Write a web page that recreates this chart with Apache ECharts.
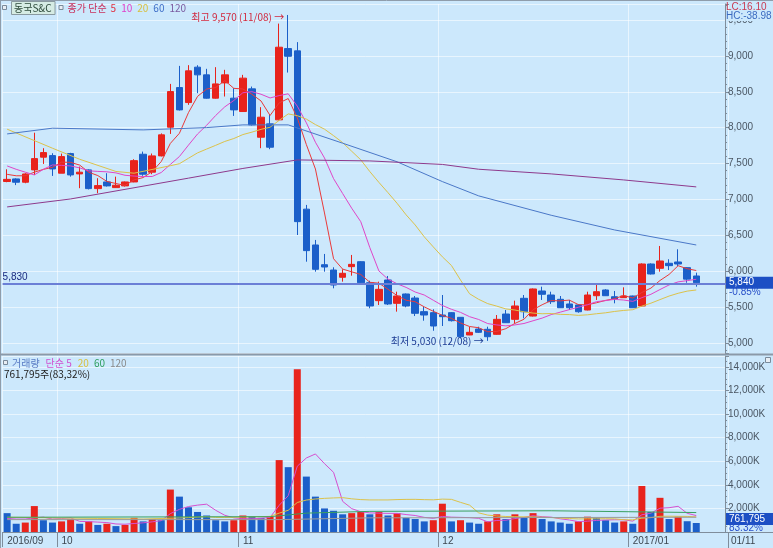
<!DOCTYPE html>
<html>
<head>
<meta charset="utf-8">
<script src="https://cdn.jsdelivr.net/npm/echarts@6.0.0/dist/echarts.min.js"></script>
<style>
html,body{margin:0;padding:0;background:#cce8fc;overflow:hidden}
#c{width:773px;height:548px}
</style>
</head>
<body>
<div id="c"></div>
<script>
// ---------------- data ----------------
const dates = [
 '2016-09-23','2016-09-26','2016-09-27','2016-09-28','2016-09-29','2016-09-30',
 '2016-10-04','2016-10-05','2016-10-06','2016-10-07','2016-10-10','2016-10-11','2016-10-12','2016-10-13','2016-10-14',
 '2016-10-17','2016-10-18','2016-10-19','2016-10-20','2016-10-21','2016-10-24','2016-10-25','2016-10-26','2016-10-27','2016-10-28','2016-10-31',
 '2016-11-01','2016-11-02','2016-11-03','2016-11-04','2016-11-07','2016-11-08','2016-11-09','2016-11-10','2016-11-11',
 '2016-11-14','2016-11-15','2016-11-16','2016-11-17','2016-11-18','2016-11-21','2016-11-22','2016-11-23','2016-11-24','2016-11-25',
 '2016-11-28','2016-11-29','2016-11-30',
 '2016-12-01','2016-12-02','2016-12-05','2016-12-06','2016-12-07','2016-12-08','2016-12-09','2016-12-12','2016-12-13','2016-12-14',
 '2016-12-15','2016-12-16','2016-12-19','2016-12-20','2016-12-21','2016-12-22','2016-12-23','2016-12-26','2016-12-27','2016-12-28','2016-12-29',
 '2017-01-02','2017-01-03','2017-01-04','2017-01-05','2017-01-06','2017-01-09','2017-01-10','2017-01-11'
];
const open = [7250,7286,7240,7412,7589,7611,7366,7639,7356,7412,
 7151,7244,7165,7189,7244,7630,7380,7607,8007,8559,
 8350,8843,8736,8411,8624,8411,8225,8541,7867,8053,
 8109,9102,9070,6865,6366,6091,6017,5916,6064,6133,
 5840,5590,5878,5553,5683,5627,5437,5423,5390,5423,
 5358,5112,5195,5191,5121,5404,5330,5623,5376,5725,
 5669,5609,5544,5530,5460,5659,5739,5645,5632,5655,
 5516,6101,6041,6111,6129,6050,5934];
const high = [7420,7295,7365,7930,7714,7644,7639,7650,7458,7420,
 7296,7366,7318,7250,7561,7667,7640,7920,8610,8861,
 8871,8870,8820,8843,8806,8550,8736,8573,8286,8178,
 9450,9570,9192,6924,6436,6241,6055,6027,6227,6140,
 5868,5855,5934,5715,5690,5655,5506,5470,5669,5430,
 5360,5227,5227,5227,5390,5460,5590,5669,5760,5785,
 5715,5655,5600,5540,5715,5818,5750,5725,5776,5660,
 6110,6110,6352,6167,6306,6055,5980];
const low = [7240,7200,7226,7342,7495,7328,7366,7318,7157,7140,
 7087,7180,7160,7180,7240,7330,7352,7600,7913,8240,
 8318,8481,8405,8405,8434,8164,8220,8030,7714,7700,
 8100,8768,6505,6133,5994,5994,5762,5855,5938,5830,
 5484,5530,5530,5437,5498,5376,5311,5171,5237,5300,
 5065,5110,5140,5030,5115,5280,5274,5344,5370,5600,
 5544,5490,5460,5422,5455,5600,5655,5553,5630,5490,
 5510,5955,5994,6017,6073,5840,5785];
const close = [7280,7240,7355,7569,7653,7425,7597,7342,7380,7151,
 7193,7189,7198,7244,7541,7352,7607,7900,8503,8248,
 8792,8736,8411,8610,8736,8248,8690,8039,8146,7728,
 9121,8995,6691,6287,6027,6059,5808,5971,6096,5840,
 5516,5748,5544,5655,5516,5414,5390,5237,5367,5311,
 5088,5149,5149,5088,5330,5283,5516,5436,5753,5679,
 5576,5492,5492,5436,5669,5715,5659,5613,5655,5492,
 6101,5962,6143,6078,6101,5890,5840];
const volume = [1600000,700000,800000,2200000,1000000,800000,900000,1100000,700000,900000,
 600000,700000,500000,600000,1200000,900000,1100000,1000000,3600000,3000000,
 2100000,1700000,1400000,1000000,900000,1000000,1400000,1300000,1200000,1300000,
 6100000,5500000,13800000,4700000,3000000,2000000,1800000,1500000,1600000,1700000,
 1500000,1700000,1400000,1600000,1200000,1100000,900000,1000000,2400000,900000,
 1000000,800000,700000,900000,1500000,1100000,1500000,1200000,1600000,1100000,
 900000,800000,700000,900000,1300000,1200000,1000000,800000,900000,700000,
 3900000,1700000,2900000,1100000,1300000,914300,761795];

// moving-average values before enough history exists
const ma5Lead  = [7350, 7330, 7330, 7380];
const ma10Lead = [7467, 7420, 7380, 7342, 7420, 7481, 7475, 7467, 7440];
const ma20Lead = [7979, null, null, null, null, 7714, null, null, 7560, null, null, null, 7390, null, 7366, null, null, null, 7470];
// long averages: [candle index, value]
const ma60Read  = [[0,7913],[5,7993],[15,7969],[22,8001],[26,8039],[31,8039],[37,7784],[43,7525],[48,7249],[52,7050],[60,6780],[67,6575],[76,6366]];
const ma120Read = [[0,6896],[7,7007],[20,7297],[26,7432],[32,7551],[40,7537],[48,7488],[52,7421],[60,7356],[68,7272],[76,7175]];
const volMa5Lead  = [1150000, 1100000, 1100000, 1200000];
const volMa20Lead = [1250000, null, null, null, null, 1200000, null, null, null, null, 1150000, null, null, null, null, 1100000, null, null, null];
const volMa60Read  = [[0,1250000],[29,1300000],[33,1600000],[40,1750000],[60,1800000],[76,1650000]];
const volMa120Read = [[0,1050000],[30,1050000],[40,1200000],[76,1250000]];
const refLine = 5830;

// ---------------- helpers ----------------
const RED = '#e8231c', BLUE = '#1b5fc9', BG = '#cce8fc', AX = '#7f8d9b';
const NUMF = "'Liberation Sans',Arial,sans-serif";
const KRF = "'Noto Sans CJK KR','Noto Sans',sans-serif";
const N = dates.length;
const cats = dates.concat(['', '', '']);
const fmt = v => Math.round(v).toLocaleString('en-US');
function sma(arr, n, lead) {
  return arr.map((_, i) => {
    if (i < n - 1) return lead[i] == null ? null : lead[i];
    let s = 0; for (let k = i - n + 1; k <= i; k++) s += arr[k];
    return Math.round(s / n);
  });
}
function sparse(pairs) { const out = new Array(N).fill(null); pairs.forEach(p => { out[p[0]] = p[1]; }); return out; }
const isMonthStart = i => i < N && (i === 0 || dates[i].slice(5, 7) !== dates[i - 1].slice(5, 7));
const monthLabel = i => (i === 0 || dates[i].slice(5, 7) === '01') ? dates[i].slice(0, 4) + '/' + dates[i].slice(5, 7) : String(+dates[i].slice(5, 7));
const mmdd = i => dates[i].slice(5, 7) + '/' + dates[i].slice(8, 10);

const idxHi = high.indexOf(Math.max(...high));
const idxLo = low.indexOf(Math.min(...low));
const last = close[N - 1], prev = close[N - 2];
const chg = (last - prev) / prev * 100;
const volRatio = volume[N - 1] / volume[N - 2] * 100;
const LC = (last - low[idxLo]) / low[idxLo] * 100;
const HC = (last - high[idxHi]) / high[idxHi] * 100;

const candleData = dates.map((d, i) => [open[i], close[i], low[i], high[i]]);
const volData = volume.map((v, i) => ({ value: v, itemStyle: { color: (i > 0 && v > volume[i - 1]) ? RED : BLUE } }));

const line = (data, color, gi) => ({
  type: 'line', data, xAxisIndex: gi, yAxisIndex: gi, symbol: 'none', connectNulls: true,
  lineStyle: { width: 1, color }, itemStyle: { color }, silent: true, z: 4
});

const xBase = gi => ({
  type: 'category', gridIndex: gi, data: cats, boundaryGap: true,
  axisLine: { show: gi === 1, lineStyle: { color: AX } },
  axisTick: { show: gi === 1, interval: (i) => isMonthStart(i), length: 15, lineStyle: { color: AX } },
  axisLabel: { show: gi === 1, interval: (i) => isMonthStart(i), formatter: (v, i) => monthLabel(i),
    align: 'left', color: '#3c4650', fontSize: 10, fontFamily: NUMF, margin: 4 },
  splitLine: { show: true, interval: (i) => isMonthStart(i), lineStyle: { color: 'rgba(255,255,255,0.55)' } }
});

const chart = echarts.init(document.getElementById('c'));
chart.setOption({
  animation: false,
  backgroundColor: BG,
  grid: [
    { left: 2.6, right: 45, top: 4, height: 349 },
    { left: 2.6, right: 45, top: 356, height: 176 }
  ],
  xAxis: [xBase(0), xBase(1)],
  yAxis: [
    { type: 'value', gridIndex: 0, position: 'right', offset: -3, min: 4861, max: 9723, splitNumber: 10,
      axisLine: { show: true, lineStyle: { color: AX } },
      axisTick: { show: true, length: 4, lineStyle: { color: AX } },
      minorTick: { show: true, splitNumber: 5, length: 2, lineStyle: { color: AX } },
      axisLabel: { showMinLabel: false, showMaxLabel: false, color: '#4a5663', fontSize: 10, fontFamily: NUMF, margin: 3, formatter: v => fmt(v) },
      splitLine: { show: true, lineStyle: { color: 'rgba(255,255,255,0.55)' } } },
    { type: 'value', gridIndex: 1, position: 'right', offset: -3, min: 0, max: 14930000, splitNumber: 8,
      axisLine: { show: true, lineStyle: { color: AX } },
      axisTick: { show: true, length: 4, lineStyle: { color: AX } },
      minorTick: { show: true, splitNumber: 4, length: 2, lineStyle: { color: AX } },
      axisLabel: { showMinLabel: false, showMaxLabel: false, color: '#4a5663', fontSize: 10, fontFamily: NUMF, margin: 3, formatter: v => fmt(v / 1000) + 'K' },
      splitLine: { show: true, lineStyle: { color: 'rgba(255,255,255,0.55)' } } }
  ],
  series: [
    { type: 'candlestick', xAxisIndex: 0, yAxisIndex: 0, data: candleData, barWidth: 7, z: 3,
      itemStyle: { color: RED, color0: BLUE, borderColor: RED, borderColor0: BLUE, borderWidth: 1 },
      markPoint: {
        symbol: 'circle', symbolSize: 0, silent: true,
        data: [
          { coord: [idxHi, high[idxHi]], label: { show: true, position: 'left', distance: 4, offset: [0, 2],
              formatter: '최고 ' + fmt(high[idxHi]) + ' (' + mmdd(idxHi) + ') →', color: '#d0283e', fontSize: 10, fontFamily: KRF } },
          { coord: [idxLo, low[idxLo]], label: { show: true, position: 'left', distance: 4, offset: [0, 0],
              formatter: '최저 ' + fmt(low[idxLo]) + ' (' + mmdd(idxLo) + ') →', color: '#1c3c94', fontSize: 10, fontFamily: KRF } }
        ]
      },
      markLine: {
        symbol: 'none', silent: true, animation: false,
        data: [{ yAxis: refLine }],
        lineStyle: { color: '#6b7fd6', width: 2, type: 'solid' },
        label: { position: 'insideStartTop', formatter: fmt(refLine), color: '#1a2a80', fontSize: 10, fontFamily: NUMF, distance: [0, 1] }
      }
    },
    line(sma(close, 5, ma5Lead), '#ea3a3a', 0),
    line(sma(close, 10, ma10Lead), '#e046c8', 0),
    line(sma(close, 20, ma20Lead), '#dcc24a', 0),
    line(sparse(ma60Read), '#4a78c8', 0),
    line(sparse(ma120Read), '#8e3a8c', 0),
    { type: 'bar', xAxisIndex: 1, yAxisIndex: 1, data: volData, barWidth: 7, z: 3 },
    line(sma(volume, 5, volMa5Lead), '#d650d0', 1),
    line(sma(volume, 20, volMa20Lead), '#dcc24a', 1),
    line(sparse(volMa60Read), '#3aa060', 1),
    line(sparse(volMa120Read), '#9a9a9a', 1)
  ]
});

// ---------------- overlays placed through the chart's own scales ----------------
const pyPrice = chart.convertToPixel({ yAxisIndex: 0 }, last);
const pyVol = Math.min(chart.convertToPixel({ yAxisIndex: 1 }, volume[N - 1]), 519);
const T = (text, x, y, fill, font, extra) => Object.assign({ type: 'text', x, y, z: 100,
  style: Object.assign({ text, fill, font, verticalAlign: 'middle' }, extra || {}) });
const R = (x, y, w, h, fill, stroke) => ({ type: 'rect', z: 99, shape: { x, y, width: w, height: h },
  style: { fill, stroke: stroke || null, lineWidth: 1 } });
const L = (x1, y1, x2, y2, color, w) => ({ type: 'line', z: 98, shape: { x1, y1, x2, y2 }, style: { stroke: color, lineWidth: w || 1 } });
const f10 = '10px ' + KRF, n10 = '10px ' + NUMF;
const mctx = document.createElement('canvas').getContext('2d');
const tw = (s, font) => { mctx.font = font; return mctx.measureText(s).width; };

// legend rows laid out sequentially by measured text width
function legendRow(x0, y, items) {
  const out = []; let x = x0;
  items.forEach(it => {
    if (it.icon) { out.push(R(x + 0.5, y - 2.5, 4, 4, '#e8eef4', '#7a8a9a')); x += 9; return; }
    const w = tw(it.text, f10);
    if (it.box) { out.push(R(x + 0.5, y - 6.5, w + 6, 13, '#d6ece4', '#8a9aa0')); out.push(T(it.text, x + 3, y, it.color, f10)); x += w + 10; }
    else { out.push(T(it.text, x, y, it.color, f10)); x += w + (it.gap == null ? 4 : it.gap); }
  });
  return out;
}

chart.setOption({
  graphic: [
    L(0.5, 0, 0.5, 548, '#8f9dab'),
    L(0, 0.5, 773, 0.5, '#8f9dab'),
    L(0, 354.5, 773, 354.5, '#8b99a8', 2),
    L(725, 532.5, 773, 532.5, '#7f8d9b'),
    L(728.5, 533, 728.5, 548, '#7f8d9b'),
    T(mmdd(N - 1), 731, 541, '#3c4650', n10),
    ...legendRow(2, 8, [
      { icon: true }, { text: '동국S&C', color: '#2d4a3a', box: true }, { icon: true },
      { text: '종가 단순', color: '#c8305c' }, { text: '5', color: '#e03040', gap: 5 },
      { text: '10', color: '#e040c8', gap: 5 }, { text: '20', color: '#d8c040', gap: 5 },
      { text: '60', color: '#3f6fc8', gap: 5 }, { text: '120', color: '#7a5aa0' }
    ]),
    ...legendRow(3, 363, [
      { icon: true }, { text: '거래량', color: '#5a7cc4', gap: 6 },
      { text: '단순 5', color: '#d050d0', gap: 6 }, { text: '20', color: '#d8c040', gap: 5 },
      { text: '60', color: '#30a060', gap: 5 }, { text: '120', color: '#8a8a8a' }
    ]),
    T(fmt(volume[N - 1]) + '주(' + volRatio.toFixed(2).replace('.', ',') + '%)', 4, 374, '#222', f10),
    R(765.5, 357.5, 5, 5, '#e8eef4', '#7a8a9a'),
    // LC / HC
    T('LC:' + LC.toFixed(2), 726, 7, '#c83a52', n10),
    T('HC:' + HC.toFixed(2), 726, 16, '#3a6ac0', n10, { backgroundColor: BG }),
    // last price box
    R(726, pyPrice - 6, 47, 12, '#1c4fc4'),
    T(fmt(last), 729, pyPrice, '#ffffff', n10),
    T((chg >= 0 ? '+' : '') + chg.toFixed(2) + '%', 729, pyPrice + 10, '#2850c8', n10),
    // last volume box
    R(726, pyVol - 6, 47, 12, '#1c4fc4'),
    T(fmt(volume[N - 1]), 729, pyVol, '#ffffff', n10),
    T(volRatio.toFixed(2) + '%', 729, pyVol + 9, '#2850c8', n10)
  ]
});
</script>
</body>
</html>
